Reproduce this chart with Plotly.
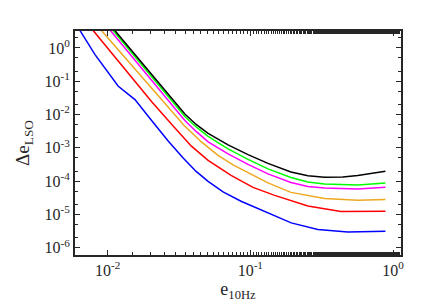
import plotly.graph_objects as go

# e_10Hz values and Delta e_LSO for six curves
blue_x = [0.006412, 0.008163, 0.011881, 0.015547, 0.020207, 0.026573, 0.033836, 0.041719, 0.050605,
          0.064437, 0.086097, 0.128786, 0.193533, 0.297358, 0.482168, 0.884936]
blue_y = [3.307, 0.6289, 0.07077, 0.02803, 0.006884, 0.001612, 4.97e-4, 1.955e-4, 9.79e-5,
          4.74e-5, 2.49e-5, 1.149e-5, 5.56e-6, 3.50e-6, 2.98e-6, 3.13e-6]

red_x = [0.007943, 0.011881, 0.020305, 0.028800, 0.038489, 0.050605, 0.073285, 0.104444,
         0.148155, 0.253200, 0.430800, 0.884936]
red_y = [3.307, 0.4071, 0.02474, 0.004546, 0.001141, 4.18e-4, 1.483e-4, 6.47e-5,
         3.72e-5, 1.80e-5, 1.231e-5, 1.248e-5]

orange_x = [0.009079, 0.015547, 0.026573, 0.034386, 0.045440, 0.059418, 0.075684, 0.096366,
            0.132999, 0.192604, 0.331340, 0.566236, 0.884936]
orange_y = [3.307, 0.234, 0.01578, 0.004706, 0.001504, 5.91e-4, 3.066e-4, 1.763e-4,
            8.83e-5, 4.58e-5, 3.02e-5, 2.67e-5, 2.78e-5]

magenta_x = [0.010495, 0.020305, 0.034776, 0.041719, 0.050605, 0.069833, 0.096366, 0.132999,
             0.192604, 0.253200, 0.331340, 0.566236, 0.884936]
magenta_y = [3.307, 0.1094, 0.00665, 0.003108, 0.001504, 6.56e-4, 3.17e-4, 1.645e-4,
             9.14e-5, 6.93e-5, 6.16e-5, 5.83e-5, 6.56e-5]

green_x = [0.010962, 0.020305, 0.034776, 0.041719, 0.050605, 0.069833, 0.096366, 0.132999,
           0.192604, 0.253200, 0.331340, 0.566236, 0.884936]
green_y = [3.307, 0.1374, 0.008767, 0.004242, 0.0022, 9.27e-4, 4.48e-4, 2.324e-4,
           1.292e-4, 9.46e-5, 8.13e-5, 7.69e-5, 8.83e-5]

black_x = [0.011264, 0.015127, 0.020305, 0.026573, 0.034776, 0.041719, 0.050605, 0.069833,
           0.096366, 0.132999, 0.192604, 0.253200, 0.331340, 0.444893, 0.566236, 0.884936]
black_y = [3.307, 0.7226, 0.1578, 0.0396, 0.01042, 0.005043, 0.002706, 0.001222,
           6.25e-4, 3.40e-4, 1.89e-4, 1.453e-4, 1.31e-4, 1.337e-4, 1.473e-4, 1.983e-4]

x_tickvals = [0.01, 0.1, 1]
x_ticktext = ["10<sup>-2</sup>", "10<sup>-1</sup>", "10<sup>0</sup>"]
y_tickvals = [1e-6, 1e-5, 1e-4, 1e-3, 1e-2, 1e-1, 1]
y_ticktext = ["10<sup>-6</sup>", "10<sup>-5</sup>", "10<sup>-4</sup>", "10<sup>-3</sup>",
              "10<sup>-2</sup>", "10<sup>-1</sup>", "10<sup>0</sup>"]

series = [
    (blue_x, blue_y, "#0000FF"),
    (red_x, red_y, "#FF0000"),
    (orange_x, orange_y, "#EDA820"),
    (magenta_x, magenta_y, "#FF00FF"),
    (green_x, green_y, "#00FF00"),
    (black_x, black_y, "#000000"),
]

fig = go.Figure()
for xs, ys, c in series:
    fig.add_trace(go.Scatter(x=xs, y=ys, mode="lines", line=dict(color=c, width=1.5),
                             showlegend=False))

font = dict(family="Liberation Serif, Times New Roman, serif", size=16, color="#262626")
axis_common = dict(
    type="log", showgrid=False, zeroline=False, showline=True, linecolor="#262626", linewidth=2,
    mirror="ticks", ticks="inside", ticklen=5, tickwidth=1, tickcolor="#262626",
    minor=dict(ticks="inside", ticklen=3, tickcolor="#262626", showgrid=False),
    tickfont=font,
)
fig.update_layout(
    width=436, height=308,
    margin=dict(l=67, r=43, t=23, b=61),
    paper_bgcolor="white", plot_bgcolor="white",
    font=font,
    xaxis=dict(axis_common, range=[-2.2285, 0.056], tickvals=x_tickvals, ticktext=x_ticktext,
               title=dict(text="e<sub>10Hz</sub>", font=dict(font, size=18), standoff=4)),
    yaxis=dict(axis_common, range=[-6.22, 0.51], tickvals=y_tickvals, ticktext=y_ticktext,
               title=dict(text="\u0394e<sub>LSO</sub>", font=dict(font, size=19), standoff=10)),
)
fig.write_html("out.html")
